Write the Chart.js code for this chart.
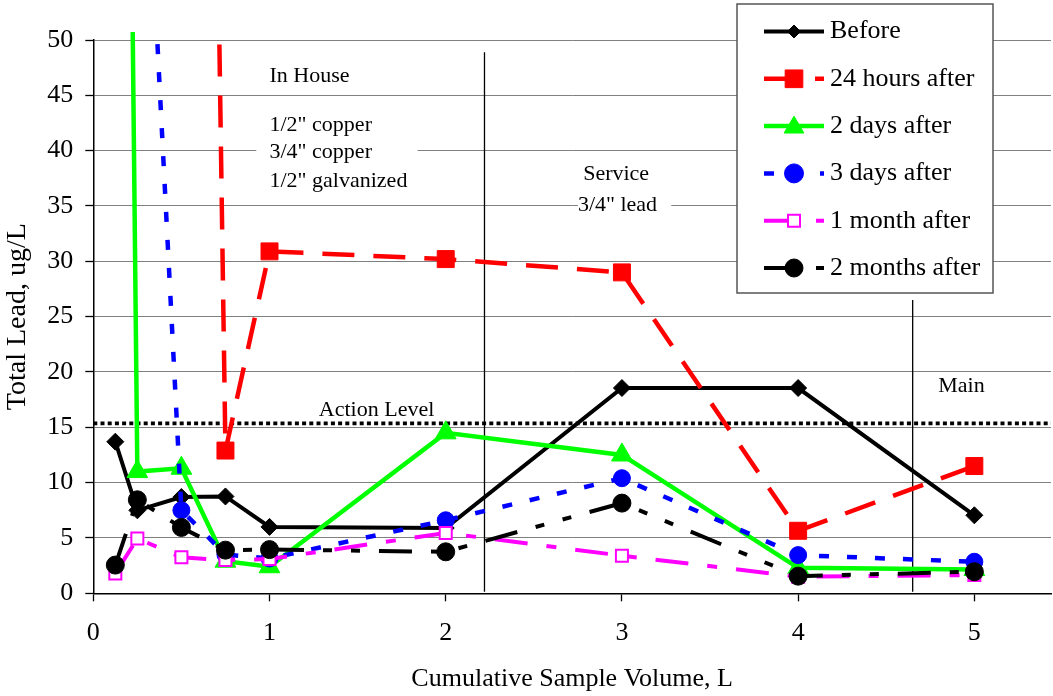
<!DOCTYPE html>
<html><head><meta charset="utf-8">
<script src="https://cdn.jsdelivr.net/npm/chart.js@4.4.1/dist/chart.umd.min.js"></script>
<style>html,body{margin:0;padding:0;background:#fff;overflow:hidden}</style>
</head><body>
<canvas id="c" width="1053" height="696"></canvas>
<script>
// ---- data ----
const volumes = [0.125, 0.25, 0.5, 0.75, 1, 2, 3, 4, 5];
const before  = [13.7, 7.5, 8.7, 8.75, 6.0, 5.9, 18.55, 18.55, 7.05];
const hours24 = [null, null, 280, 12.9, 30.9, 30.2, 29.0, 5.65, 11.5];
const days2   = [200, 11.0, 11.3, 2.9, 2.4, 14.5, 12.5, 2.3, 2.15];
const days3   = [null, 85, 7.5, 3.5, 3.15, 6.6, 10.4, 3.45, 2.85];
const month1  = [1.8, 4.95, 3.25, 3.0, 3.1, 5.45, 3.4, 1.5, 1.65];
const months2 = [2.55, 8.45, 5.95, 3.9, 3.95, 3.75, 8.15, 1.55, 1.95];
const seriesNames = ['Before', '24 hours after', '2 days after', '3 days after', '1 month after', '2 months after'];
const actionLevel = 15.35;
const dividerX = [2.22, 4.65];
const dividerTop = [48.9, 26.5];
const dividerBottom = [0.15, 0.15];
const xAxisTitle = 'Cumulative Sample Volume, L';
const yAxisTitle = 'Total Lead, ug/L';
const notes = [
  {text: 'In House', x: 1.0, y: 46.2},
  {text: '1/2" copper', x: 1.0, y: 41.8},
  {text: '3/4" copper', x: 1.0, y: 39.35},
  {text: '1/2" galvanized', x: 1.0, y: 36.75},
  {text: 'Service', x: 2.78, y: 37.35},
  {text: '3/4" lead', x: 2.75, y: 34.55},
  {text: 'Action Level', x: 1.28, y: 16.0},
  {text: 'Main', x: 4.795, y: 18.2}
];
const noteBoxes = [
  {x0: 0.925, x1: 1.84, y0: 35.9, y1: 43.8},
  {x0: 2.75, x1: 3.28, y0: 34.1, y1: 39.8}
];

const FONT = '"Liberation Serif", "Times New Roman", serif';
const pts = arr => volumes.map((v, i) => ({x: v, y: arr[i]}));

const styles = [
  {data: before,  color: '#000000', width: 4,   dash: [],                 ps: 'rectRot',  r: 8.5, bg: '#000000', bw: 1, lr: 6.5},
  {data: hours24, color: '#ff0000', width: 4.5, dash: [32, 19],           ps: 'rect',     r: 12,  bg: '#ff0000', bw: 1, lr: 12.5},
  {data: days2,   color: '#00ff00', width: 4.5, dash: [],                 ps: 'triangle', r: 12,  bg: '#00ff00', bw: 1, lr: 11},
  {data: days3,   color: '#0000ff', width: 4.5, dash: [10, 18],           ps: 'circle',   r: 8.5, bg: '#0000ff', bw: 1, lr: 9.5},
  {data: month1,  color: '#ff00ff', width: 4,   dash: [33, 19, 10, 19],   ps: 'rect',     r: 8.5, bg: '#ffffff', bw: 2, lr: 8.5},
  {data: months2, color: '#000000', width: 4,   dash: [33, 19, 9, 19, 9, 19], ps: 'circle', r: 9, bg: '#000000', bw: 1, lr: 9}
];

const datasets = styles.map((s, i) => ({
  label: seriesNames[i],
  data: pts(s.data),
  borderColor: s.color,
  borderWidth: s.width,
  borderDash: s.dash,
  pointStyle: s.ps,
  pointRadius: s.r,
  pointBackgroundColor: s.bg,
  pointBorderColor: s.color,
  pointBorderWidth: s.bw,
  tension: 0,
  fill: false,
  order: 6 - i,
  clip: {left: 4, top: 8, right: 4, bottom: 4}
}));

datasets.push({
  label: 'Action Level',
  data: [{x: 0, y: actionLevel}, {x: 5.435, y: actionLevel}],
  borderColor: '#000', borderWidth: 3.7, borderDash: [4, 3.2],
  pointRadius: 0, order: 20, fill: false
});
dividerX.forEach((dx, i) => datasets.push({
  label: 'divider' + i,
  data: [{x: dx, y: dividerBottom[i]}, {x: dx, y: dividerTop[i]}],
  borderColor: '#000', borderWidth: 1.3, pointRadius: 0, order: 21, fill: false
}));

const annotationPlugin = {
  id: 'notes',
  beforeDatasetsDraw(chart) {
    const ctx = chart.ctx, xs = chart.scales.x, ys = chart.scales.y;
    ctx.save();
    ctx.fillStyle = '#ffffff';
    noteBoxes.forEach(b => {
      const x0 = xs.getPixelForValue(b.x0), x1 = xs.getPixelForValue(b.x1);
      const y0 = ys.getPixelForValue(b.y1), y1 = ys.getPixelForValue(b.y0);
      ctx.fillRect(x0, y0, x1 - x0, y1 - y0);
    });
    ctx.fillStyle = '#000';
    ctx.font = '22px ' + FONT;
    ctx.textAlign = 'left';
    ctx.textBaseline = 'alphabetic';
    notes.forEach(n => ctx.fillText(n.text, xs.getPixelForValue(n.x), ys.getPixelForValue(n.y)));
    ctx.restore();
  }
};

function marker(ctx, s, x, y, r) {
  ctx.save();
  ctx.setLineDash([]);
  ctx.fillStyle = s.bg;
  ctx.strokeStyle = s.color;
  ctx.lineWidth = s.bw;
  ctx.beginPath();
  if (s.ps === 'circle') {
    ctx.arc(x, y, r, 0, Math.PI * 2);
  } else if (s.ps === 'rect') {
    const h = r * Math.SQRT1_2;
    ctx.rect(x - h, y - h, 2 * h, 2 * h);
  } else if (s.ps === 'rectRot') {
    ctx.moveTo(x, y - r); ctx.lineTo(x + r, y); ctx.lineTo(x, y + r); ctx.lineTo(x - r, y); ctx.closePath();
  } else if (s.ps === 'triangle') {
    const h = r * 0.9;
    ctx.moveTo(x, y - h); ctx.lineTo(x + h, y + h * 0.7); ctx.lineTo(x - h, y + h * 0.7); ctx.closePath();
  }
  ctx.fill();
  ctx.stroke();
  ctx.restore();
}

const legendPlugin = {
  id: 'boxLegend',
  afterDraw(chart) {
    const ctx = chart.ctx;
    ctx.save();
    const L = 737, T = 4, W = 256, H = 289;
    ctx.fillStyle = '#fff';
    ctx.fillRect(L, T, W, H);
    ctx.strokeStyle = '#555';
    ctx.lineWidth = 1.5;
    ctx.strokeRect(L, T, W, H);
    ctx.font = '26px ' + FONT;
    ctx.textBaseline = 'middle';
    ctx.textAlign = 'left';
    styles.forEach((s, i) => {
      const y = 31.5 + i * 47.3;
      ctx.save();
      ctx.beginPath();
      ctx.rect(764, y - 10, 60, 20);
      ctx.clip();
      ctx.strokeStyle = s.color;
      ctx.lineWidth = s.width;
      ctx.setLineDash(s.dash);
      ctx.beginPath();
      ctx.moveTo(764, y); ctx.lineTo(824, y);
      ctx.stroke();
      ctx.restore();
      marker(ctx, s, 794, y, s.lr);
      ctx.fillStyle = '#000';
      ctx.fillText(seriesNames[i], 830, y);
    });
    ctx.restore();
  }
};

new Chart(document.getElementById('c'), {
  type: 'line',
  data: {datasets},
  plugins: [annotationPlugin, legendPlugin],
  options: {
    responsive: false,
    animation: false,
    devicePixelRatio: 1,
    layout: {autoPadding: false, padding: {top: 40, right: 2, left: 0, bottom: 0}},
    plugins: {legend: {display: false}, tooltip: {enabled: false}},
    scales: {
      x: {
        type: 'linear', position: 'bottom', min: 0, max: 5.435,
        afterFit(scale) { scale.height = 102.7; scale.paddingLeft = 0; scale.paddingRight = 0; },
        ticks: {stepSize: 1, includeBounds: false, color: '#000', padding: 16, font: {family: FONT, size: 26}},
        grid: {drawOnChartArea: false, drawTicks: true, tickLength: 8, tickColor: '#000', tickWidth: 1.3},
        border: {display: true, color: '#000', width: 1.5},
        title: {display: true, text: xAxisTitle, color: '#000', font: {family: FONT, size: 26}, padding: {top: 0, bottom: 1}}
      },
      y: {
        type: 'linear', min: 0, max: 50,
        afterFit(scale) { scale.width = 93.3; },
        ticks: {stepSize: 5, color: '#000', padding: 12, font: {family: FONT, size: 26}},
        grid: {color: '#808080', lineWidth: 1, drawTicks: true, tickLength: 8, tickColor: '#000', tickWidth: 1.3},
        border: {display: true, color: '#000', width: 1.5},
        title: {display: true, text: yAxisTitle, color: '#000', font: {family: FONT, size: 28}, padding: {top: 1, bottom: 0}}
      }
    }
  }
});
</script>
</body></html>
